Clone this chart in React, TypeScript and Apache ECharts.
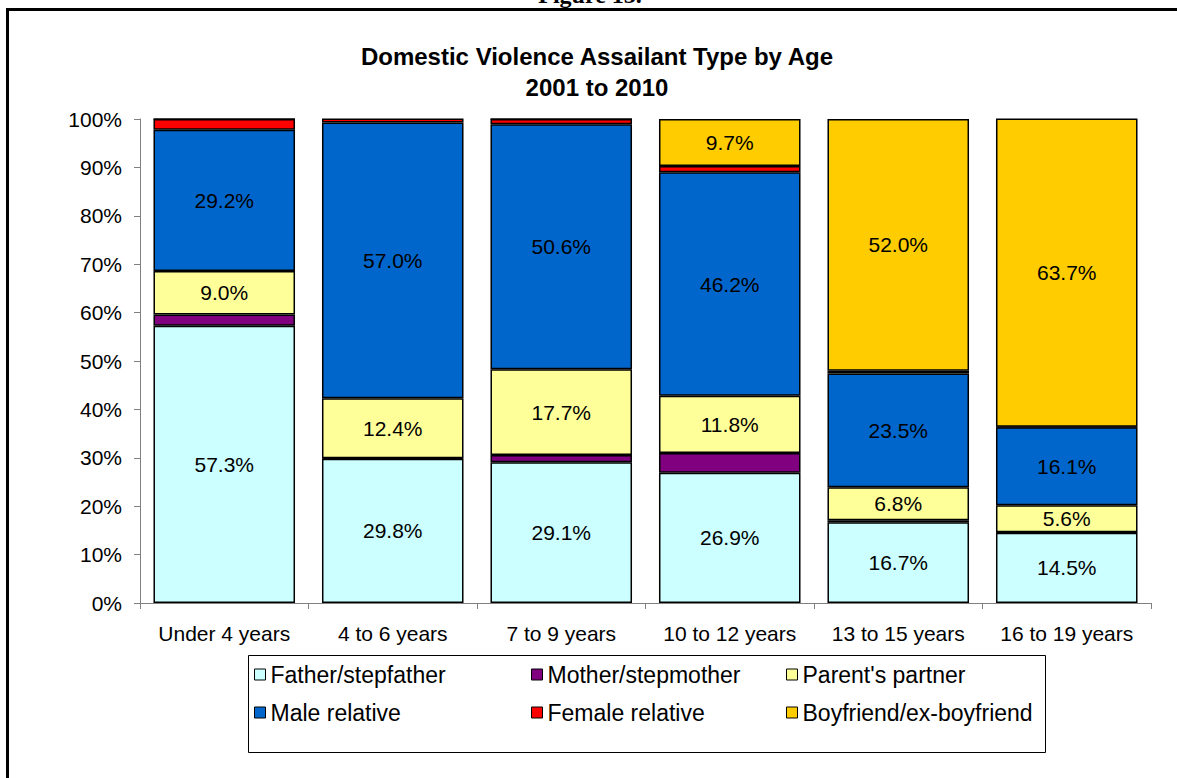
import React, { useEffect, useRef } from "react";
import * as echarts from "echarts";

const categories = ["Under 4 years", "4 to 6 years", "7 to 9 years", "10 to 12 years", "13 to 15 years", "16 to 19 years"];
const fatherStepfather = [57.3, 29.8, 29.1, 26.9, 16.7, 14.5];
const motherStepmother = [2.3, 0.1, 1.5, 4.1, 0.4, 0.1];
const parentsPartner = [9.0, 12.4, 17.7, 11.8, 6.8, 5.6];
const maleRelative = [29.2, 57.0, 50.6, 46.2, 23.5, 16.1];
const femaleRelative = [2.2, 0.8, 1.1, 1.3, 0.6, 0.1];
const boyfriend = [0, 0, 0, 9.7, 52.0, 63.7];
const yTicks = [0, 10, 20, 30, 40, 50, 60, 70, 80, 90, 100];

const seriesDefs = [
  { name: "Father/stepfather", data: fatherStepfather, color: "#CCFFFF" },
  { name: "Mother/stepmother", data: motherStepmother, color: "#800080" },
  { name: "Parent's partner", data: parentsPartner, color: "#FFFF99" },
  { name: "Male relative", data: maleRelative, color: "#0066CC" },
  { name: "Female relative", data: femaleRelative, color: "#FF0000" },
  { name: "Boyfriend/ex-boyfriend", data: boyfriend, color: "#FFCC00" },
];

const FONT = "Arial, 'Liberation Sans', sans-serif";

export default function App() {
  const ref = useRef<HTMLDivElement>(null);
  useEffect(() => {
    if (!ref.current) return;
    const chart = echarts.init(ref.current, null, { renderer: "svg" });
    const legendPos = [
      { left: 254, top: 663 },
      { left: 531, top: 663 },
      { left: 786, top: 663 },
      { left: 254, top: 701 },
      { left: 531, top: 701 },
      { left: 786, top: 701 },
    ];
    chart.setOption({
      animation: false,
      backgroundColor: "#ffffff",
      textStyle: { fontFamily: FONT },
      title: {
        text: "Domestic Violence Assailant Type by Age\n2001 to 2010",
        left: 597,
        top: 41,
        padding: 0,
        textAlign: "center",
        textStyle: { fontFamily: FONT, fontWeight: "bold", fontSize: 24, lineHeight: 31, color: "#000" },
      },
      graphic: [
        {
          type: "rect",
          shape: { x: 7.5, y: 9.5, width: 1200, height: 800 },
          style: { fill: "none", stroke: "#000", lineWidth: 3 },
          silent: true,
        },
        {
          type: "text",
          x: 590,
          y: 7,
          style: {
            text: "Figure 13.",
            font: "bold 24px 'Liberation Serif', 'Times New Roman', serif",
            fill: "#000",
            align: "center",
            verticalAlign: "bottom",
          },
        },
        {
          type: "rect",
          shape: { x: 248.5, y: 655.5, width: 797, height: 97 },
          style: { fill: "none", stroke: "#000", lineWidth: 1 },
          silent: true,
        },
      ],
      legend: seriesDefs.map((s, i) => ({
        data: [s.name],
        left: legendPos[i].left,
        top: legendPos[i].top,
        padding: 0,
        itemWidth: 11,
        itemHeight: 11,
        itemGap: 0,
        icon: "rect",
        itemStyle: { borderColor: "#000", borderWidth: 1 },
        textStyle: { fontFamily: FONT, fontSize: 23, color: "#000" },
        selectedMode: false,
      })),
      grid: { left: 140, right: 26, top: 119, bottom: 175, containLabel: false },
      xAxis: {
        type: "category",
        data: categories,
        axisLine: { lineStyle: { color: "#808080", width: 1 } },
        axisTick: { show: true, length: 6, lineStyle: { color: "#808080" } },
        axisLabel: { fontFamily: FONT, fontSize: 21, color: "#000", margin: 20, interval: 0 },
      },
      yAxis: {
        type: "value",
        min: yTicks[0],
        max: yTicks[yTicks.length - 1],
        interval: 10,
        splitLine: { show: false },
        axisLine: { show: true, lineStyle: { color: "#808080", width: 1 } },
        axisTick: { show: true, length: 6, lineStyle: { color: "#808080" } },
        axisLabel: { fontFamily: FONT, fontSize: 21, color: "#000", margin: 18, formatter: "{value}%" },
      },
      series: seriesDefs.map((s) => ({
        name: s.name,
        type: "bar",
        stack: "total",
        barCategoryGap: "16%",
        itemStyle: { color: s.color, borderColor: "#000", borderWidth: 1.5 },
        label: {
          show: false,
          position: "inside",
          fontFamily: FONT,
          fontSize: 21,
          color: "#000",
          formatter: (p: any) => `${Number(p.value).toFixed(1)}%`,
        },
        data: s.data.map((v) => ({ value: v, label: { show: v >= 5 } })),
      })),
    });
    return () => chart.dispose();
  }, []);
  return <div ref={ref} style={{ position: "fixed", left: 0, top: 0, width: 1177, height: 778 }} />;
}
